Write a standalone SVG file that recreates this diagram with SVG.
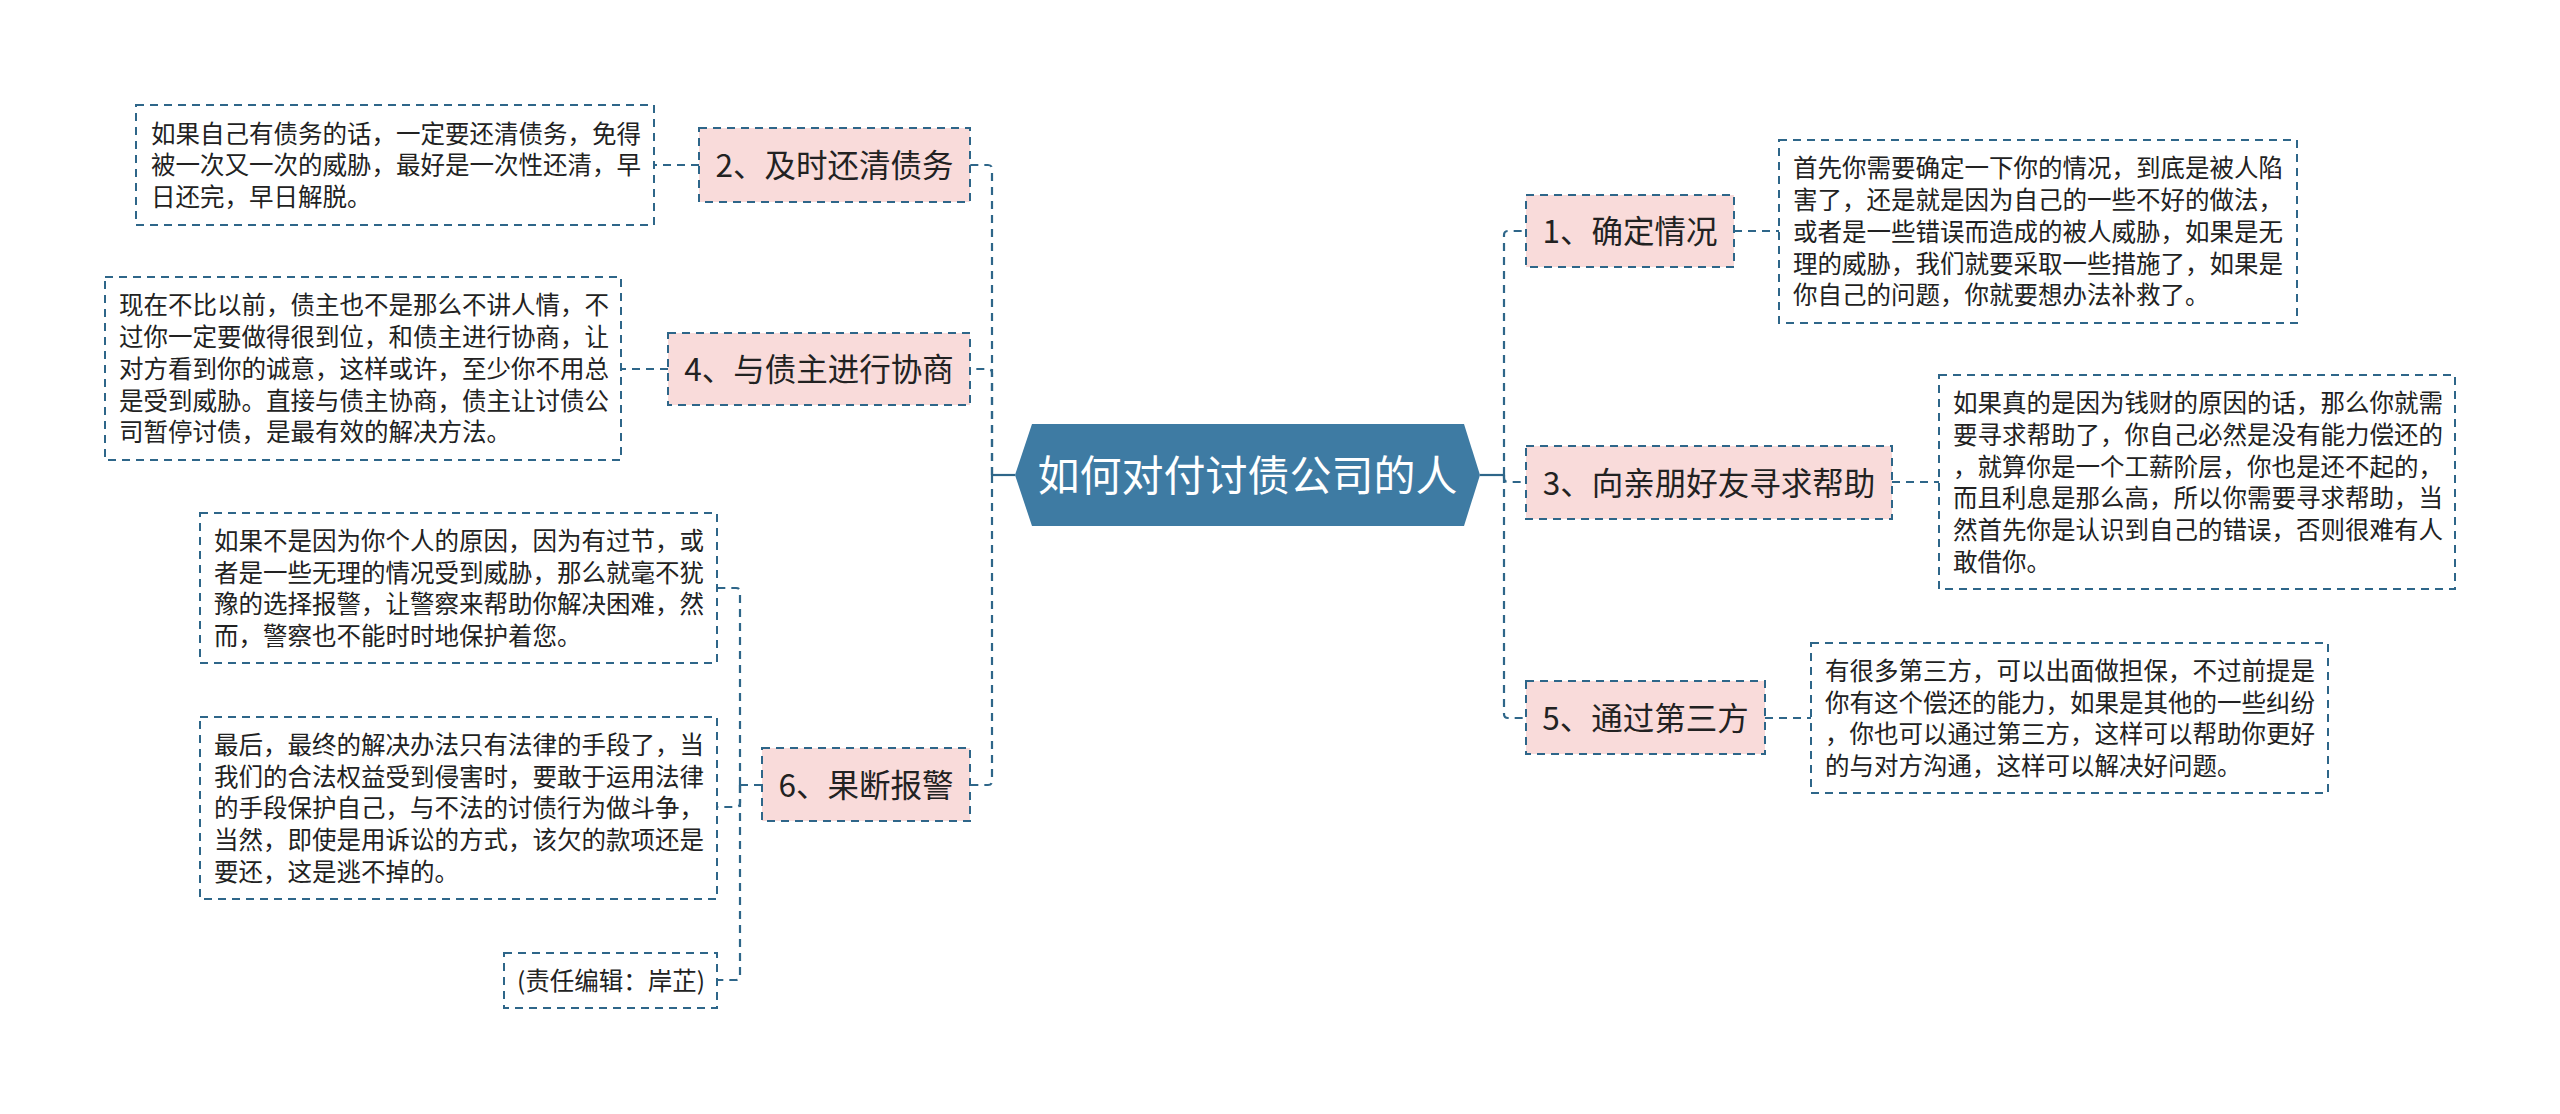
<svg xmlns="http://www.w3.org/2000/svg" width="2560" height="1114" viewBox="0 0 2560 1114">
<style>
text{font-family:"Noto Sans CJK SC","Noto Sans",sans-serif;fill:#222}
.box{fill:#ffffff;stroke:#2e6689;stroke-width:2;stroke-dasharray:8 6}
.node{fill:#f9dbda;stroke:#2e6689;stroke-width:2;stroke-dasharray:8 6}
.link{fill:none;stroke:#2e6689;stroke-width:2.2;stroke-dasharray:8 6}
.solid{fill:none;stroke:#2e6689;stroke-width:2.2}
.body{font-size:24.5px}
.title{font-size:31.5px;text-anchor:middle}
.root{font-size:42px;fill:#ffffff;text-anchor:middle}
</style>
<rect width="2560" height="1114" fill="#ffffff"/>
<g id="connectors">
<path class="solid" d="M1015 475 H992"/>
<path class="link" d="M992 475 V169 Q992 165 988 165 H970"/>
<path class="link" d="M992 475 V373 Q992 369 988 369 H970"/>
<path class="link" d="M992 475 V781 Q992 785 988 785 H970"/>
<path class="link" d="M699 165 H654"/>
<path class="link" d="M668 369 H621"/>
<path class="link" d="M762 785 H740"/>
<path class="link" d="M740 785 V592 Q740 588 736 588 H717"/>
<path class="link" d="M740 785 V803 Q740 807 736 807 H717"/>
<path class="link" d="M740 785 V976 Q740 980 736 980 H717"/>
<path class="solid" d="M1480 475 H1504"/>
<path class="link" d="M1504 475 V235 Q1504 231 1508 231 H1526"/>
<path class="link" d="M1504 475 V478 Q1504 482 1508 482 H1526"/>
<path class="link" d="M1504 475 V714 Q1504 718 1508 718 H1526"/>
<path class="link" d="M1734 231 H1779"/>
<path class="link" d="M1892 482 H1939"/>
<path class="link" d="M1765 718 H1811"/>
</g>
<g id="root">
<polygon points="1015,475 1032,424 1464,424 1480,475 1464,526 1032,526" fill="#3e7ba3"/>
<text class="root" x="1247.5" y="491">如何对付讨债公司的人</text>
</g>
<g id="n2">
<rect class="node" x="699" y="128" width="271" height="74"/>
<text class="title" x="834.5" y="177">2、及时还清债务</text>
</g>
<g id="n2-detail">
<rect class="box" x="136" y="105" width="518" height="120"/>
<text class="body" x="151" y="142.6">如果自己有债务的话，一定要还清债务，免得</text>
<text class="body" x="151" y="174.3">被一次又一次的威胁，最好是一次性还清，早</text>
<text class="body" x="151" y="206">日还完，早日解脱。</text>
</g>
<g id="n4">
<rect class="node" x="668" y="333" width="302" height="72"/>
<text class="title" x="819" y="381">4、与债主进行协商</text>
</g>
<g id="n4-detail">
<rect class="box" x="105" y="277" width="516" height="183"/>
<text class="body" x="119" y="314.4">现在不比以前，债主也不是那么不讲人情，不</text>
<text class="body" x="119" y="346.1">过你一定要做得很到位，和债主进行协商，让</text>
<text class="body" x="119" y="377.8">对方看到你的诚意，这样或许，至少你不用总</text>
<text class="body" x="119" y="409.5">是受到威胁。直接与债主协商，债主让讨债公</text>
<text class="body" x="119" y="441.2">司暂停讨债，是最有效的解决方法。</text>
</g>
<g id="n6">
<rect class="node" x="762" y="748" width="208" height="73"/>
<text class="title" x="866" y="796.5">6、果断报警</text>
</g>
<g id="n6-detail1">
<rect class="box" x="200" y="513" width="517" height="150"/>
<text class="body" x="214" y="549.8">如果不是因为你个人的原因，因为有过节，或</text>
<text class="body" x="214" y="581.5">者是一些无理的情况受到威胁，那么就毫不犹</text>
<text class="body" x="214" y="613.2">豫的选择报警，让警察来帮助你解决困难，然</text>
<text class="body" x="214" y="644.9">而，警察也不能时时地保护着您。</text>
</g>
<g id="n6-detail2">
<rect class="box" x="200" y="717" width="517" height="182"/>
<text class="body" x="214" y="753.9">最后，最终的解决办法只有法律的手段了，当</text>
<text class="body" x="214" y="785.6">我们的合法权益受到侵害时，要敢于运用法律</text>
<text class="body" x="214" y="817.3">的手段保护自己，与不法的讨债行为做斗争，</text>
<text class="body" x="214" y="849">当然，即使是用诉讼的方式，该欠的款项还是</text>
<text class="body" x="214" y="880.7">要还，这是逃不掉的。</text>
</g>
<g id="n6-detail3">
<rect class="box" x="504" y="953" width="213" height="55"/>
<text class="body" x="517" y="989.8">(责任编辑：岸芷)</text>
</g>
<g id="n1">
<rect class="node" x="1526" y="195" width="208" height="72"/>
<text class="title" x="1630" y="243">1、确定情况</text>
</g>
<g id="n1-detail">
<rect class="box" x="1779" y="140" width="518" height="183"/>
<text class="body" x="1793" y="177.4">首先你需要确定一下你的情况，到底是被人陷</text>
<text class="body" x="1793" y="209.1">害了，还是就是因为自己的一些不好的做法，</text>
<text class="body" x="1793" y="240.8">或者是一些错误而造成的被人威胁，如果是无</text>
<text class="body" x="1793" y="272.5">理的威胁，我们就要采取一些措施了，如果是</text>
<text class="body" x="1793" y="304.2">你自己的问题，你就要想办法补救了。</text>
</g>
<g id="n3">
<rect class="node" x="1526" y="446" width="366" height="73"/>
<text class="title" x="1709" y="494.5">3、向亲朋好友寻求帮助</text>
</g>
<g id="n3-detail">
<rect class="box" x="1939" y="375" width="516" height="214"/>
<text class="body" x="1953" y="412.1">如果真的是因为钱财的原因的话，那么你就需</text>
<text class="body" x="1953" y="443.8">要寻求帮助了，你自己必然是没有能力偿还的</text>
<text class="body" x="1953" y="475.5">，就算你是一个工薪阶层，你也是还不起的，</text>
<text class="body" x="1953" y="507.2">而且利息是那么高，所以你需要寻求帮助，当</text>
<text class="body" x="1953" y="538.9">然首先你是认识到自己的错误，否则很难有人</text>
<text class="body" x="1953" y="570.6">敢借你。</text>
</g>
<g id="n5">
<rect class="node" x="1526" y="681" width="239" height="73"/>
<text class="title" x="1645.5" y="729.5">5、通过第三方</text>
</g>
<g id="n5-detail">
<rect class="box" x="1811" y="643" width="517" height="150"/>
<text class="body" x="1825" y="679.8">有很多第三方，可以出面做担保，不过前提是</text>
<text class="body" x="1825" y="711.5">你有这个偿还的能力，如果是其他的一些纠纷</text>
<text class="body" x="1825" y="743.2">，你也可以通过第三方，这样可以帮助你更好</text>
<text class="body" x="1825" y="774.9">的与对方沟通，这样可以解决好问题。</text>
</g>
</svg>
